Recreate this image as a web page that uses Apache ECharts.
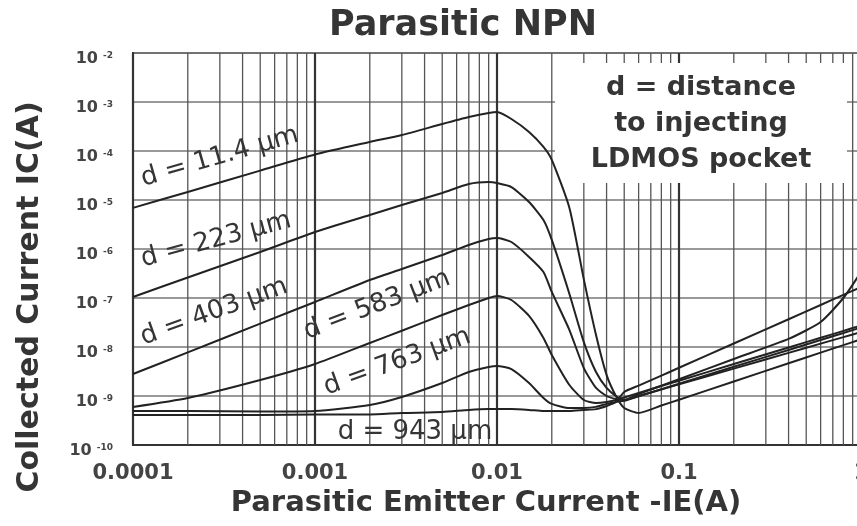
<!DOCTYPE html>
<html><head><meta charset="utf-8">
<script src="https://cdn.jsdelivr.net/npm/echarts/dist/echarts.min.js"></script>
<style>html,body{margin:0;padding:0;background:#fff}#c{width:857px;height:526px}</style>
</head><body><div id="c"></div>
<script>
// Parasitic emitter current -IE (A)
const emitterCurrent = [1e-4, 2e-4, 5e-4, 1e-3, 2e-3, 3e-3, 5e-3, 7e-3, 9e-3, 0.01, 0.012, 0.015, 0.018, 0.02, 0.025, 0.03, 0.035, 0.04, 0.045, 0.05, 0.06, 0.08, 0.1, 0.2, 0.4, 0.6, 0.8, 1.0];
// Collected current IC (A) for each distance d
const ic_d11_4 = [6.9e-6, 1.46e-5, 3.98e-5, 8.5e-5, 1.53e-4, 2.12e-4, 3.56e-4, 4.94e-4, 5.97e-4, 6.25e-4, 4.5e-4, 2.44e-4, 1.21e-4, 6.6e-5, 6.9e-6, 2.4e-7, 1.76e-8, 2.7e-9, 1e-9, 5.7e-10, 4.5e-10, 6.4e-10, 8.4e-10, 1.98e-9, 4.65e-9, 7.66e-9, 1.09e-8, 1.44e-8];
const ic_d223 = [1.05e-7, 2.62e-7, 8.7e-7, 2.22e-6, 4.94e-6, 7.9e-6, 1.39e-5, 2.12e-5, 2.33e-5, 2.22e-5, 1.84e-5, 9.1e-6, 3.9e-6, 1.53e-6, 1.21e-7, 1.26e-8, 3.09e-9, 1.46e-9, 1e-9, 8.3e-10, 1e-9, 1.36e-9, 1.73e-9, 3.62e-9, 7.6e-9, 1.17e-8, 1.59e-8, 2.02e-8];
const ic_d403 = [2.81e-9, 7.77e-9, 3.0e-8, 8.3e-8, 2.33e-7, 3.9e-7, 7.55e-7, 1.21e-6, 1.6e-6, 1.68e-6, 1.39e-6, 6.9e-7, 3.4e-7, 1.33e-7, 2.22e-8, 3.72e-9, 1.46e-9, 1e-9, 8.7e-10, 8.3e-10, 1.1e-9, 1.63e-9, 2.2e-9, 5.7e-9, 1.46e-8, 3.24e-8, 1e-7, 3.4e-7];
const ic_d583 = [5.97e-10, 9.1e-10, 2.12e-9, 4.5e-9, 1.21e-8, 2.15e-8, 4.5e-8, 7.2e-8, 1e-7, 1.1e-7, 9.1e-8, 4.3e-8, 1.53e-8, 6.9e-9, 1.68e-9, 8.3e-10, 7.2e-10, 7.55e-10, 8.3e-10, 9.3e-10, 1.15e-9, 1.6e-9, 2.04e-9, 4.5e-9, 9.8e-9, 1.54e-8, 2.13e-8, 2.75e-8];
const ic_d763 = [4.94e-10, 4.94e-10, 4.8e-10, 4.94e-10, 6.55e-10, 9.55e-10, 1.84e-9, 3.09e-9, 3.9e-9, 4.1e-9, 3.55e-9, 1.84e-9, 9.1e-10, 6.9e-10, 5.7e-10, 5.7e-10, 6e-10, 6.9e-10, 7.55e-10, 8e-10, 9.9e-10, 1.38e-9, 1.78e-9, 3.94e-9, 8.7e-9, 1.39e-8, 1.93e-8, 2.5e-8];
const ic_d943 = [4.1e-10, 4.1e-10, 4.1e-10, 4.2e-10, 4.2e-10, 4.5e-10, 4.7e-10, 5.2e-10, 5.4e-10, 5.4e-10, 5.4e-10, 5.2e-10, 4.94e-10, 4.94e-10, 4.94e-10, 5.2e-10, 5.4e-10, 6.25e-10, 7.55e-10, 1.21e-9, 1.63e-9, 2.6e-9, 3.77e-9, 1.18e-8, 3.69e-8, 7.2e-8, 1.16e-7, 1.67e-7];

const curveNames = ['d = 11.4 µm', 'd = 223 µm', 'd = 403 µm', 'd = 583 µm', 'd = 763 µm', 'd = 943 µm'];
const xTickLabels = ['0.0001', '0.001', '0.01', '0.1', '1'];
const yTickExponents = ['-10', '-9', '-8', '-7', '-6', '-5', '-4', '-3', '-2'];
const minorMultipliers = [2, 3, 4, 5, 6, 7, 8, 9];
const minorDecades = [1e-4, 1e-3, 1e-2, 1e-1];

const curves = [ic_d11_4, ic_d223, ic_d403, ic_d583, ic_d763, ic_d943];
// label anchor (data coords) and rotation for each curve annotation
const labelAnchors = [
  {coord: [3.0e-4, 7.55e-5], rot: 16},
  {coord: [2.86e-4, 1.53e-6], rot: 15},
  {coord: [2.79e-4, 5.2e-8], rot: 20},
  {coord: [2.19e-3, 7.2e-8], rot: 21},
  {coord: [2.83e-3, 4.94e-9], rot: 20},
  {coord: [3.54e-3, 1.84e-10], rot: 0}
];

// minor vertical grid (log 2..9 in each decade), drawn through the axes' scales
const minorGridData = [];
minorDecades.forEach(d => minorMultipliers.forEach(m => {
  const x = +(d * m).toPrecision(3);
  minorGridData.push([x, 1e-10], [x, 1e-2], [x, '-']);
}));

const textColor = '#353535';
const series = [{
  name: 'minor grid',
  type: 'line',
  z: 0.5,
  silent: true,
  showSymbol: false,
  connectNulls: false,
  lineStyle: {color: '#555', width: 1.3},
  data: minorGridData
}].concat(curves.map((ys, i) => ({
  name: curveNames[i],
  type: 'line',
  z: 3,
  smooth: 0.2,
  showSymbol: false,
  silent: true,
  lineStyle: {color: '#222', width: 2},
  data: emitterCurrent.map((x, k) => [x, ys[k]]),
  markPoint: {
    z: 6,
    silent: true,
    symbol: 'circle',
    symbolSize: 0,
    data: [{coord: labelAnchors[i].coord, value: curveNames[i]}],
    label: {
      show: true, position: 'inside', formatter: curveNames[i],
      rotate: labelAnchors[i].rot,
      fontFamily: 'DejaVu Sans', fontSize: 26, color: textColor
    }
  }
})));

const chart = echarts.init(document.getElementById('c'), null, {renderer: 'canvas'});
chart.setOption({
  animation: false,
  backgroundColor: '#fff',
  grid: {left: 133, right: -4, top: 53, bottom: 81, outerBoundsMode: 'none', containLabel: false,
         show: true, borderColor: '#333', borderWidth: 2, backgroundColor: 'transparent'},
  xAxis: {
    type: 'log', logBase: 10, min: 1e-4, max: 1, interval: 1,
    axisLine: {show: true, lineStyle: {color: '#333', width: 2}},
    axisTick: {show: false},
    splitLine: {show: true, lineStyle: {color: '#333', width: 2.2}},
    axisLabel: {
      margin: 18,
      fontFamily: 'DejaVu Sans', fontWeight: 'bold', fontSize: 21, color: '#444',
      formatter: v => xTickLabels[Math.round(Math.log10(v)) + 4]
    }
  },
  yAxis: {
    type: 'log', logBase: 10, min: 1e-10, max: 1e-2, interval: 1,
    axisLine: {show: true, lineStyle: {color: '#333', width: 2}},
    axisTick: {show: false},
    splitLine: {show: true, lineStyle: {color: '#777', width: 1.6}},
    axisLabel: {
      margin: 20,
      formatter: v => '{b|10}{s|' + yTickExponents[Math.round(Math.log10(v)) + 10] + '}',
      rich: {
        b: {fontFamily: 'DejaVu Sans', fontWeight: 'bold', fontSize: 16, lineHeight: 18, color: '#444', padding: [12, 0, 0, 0]},
        s: {fontFamily: 'DejaVu Sans', fontWeight: 'bold', fontSize: 9, lineHeight: 10, color: '#444', verticalAlign: 'top', padding: [7, 0, 0, 5]}
      }
    }
  },
  graphic: [
    {type: 'rect', z: 1, silent: true, shape: {x: 555, y: 63, width: 292, height: 120}, style: {fill: '#fff'}},
    {type: 'text', z: 10, x: 463, y: 26, silent: true,
     style: {text: 'Parasitic NPN', fontFamily: 'DejaVu Sans', fontWeight: 'bold', fontSize: 35, fill: textColor, align: 'center', verticalAlign: 'middle'}},
    {type: 'text', z: 10, x: 486, y: 503, silent: true,
     style: {text: 'Parasitic Emitter Current -IE(A)', fontFamily: 'DejaVu Sans', fontWeight: 'bold', fontSize: 29, fill: textColor, align: 'center', verticalAlign: 'middle'}},
    {type: 'text', z: 10, x: 30, y: 297, rotation: Math.PI / 2, silent: true,
     style: {text: 'Collected Current IC(A)', fontFamily: 'DejaVu Sans', fontWeight: 'bold', fontSize: 30, fill: textColor, align: 'center', verticalAlign: 'middle'}},
    {type: 'text', z: 10, x: 701, y: 124, silent: true,
     style: {text: 'd = distance\nto injecting\nLDMOS pocket', fontFamily: 'DejaVu Sans', fontWeight: 'bold', fontSize: 27, lineHeight: 36, fill: textColor, align: 'center', verticalAlign: 'middle'}}
  ],
  series: series
});
</script>
</body></html>
